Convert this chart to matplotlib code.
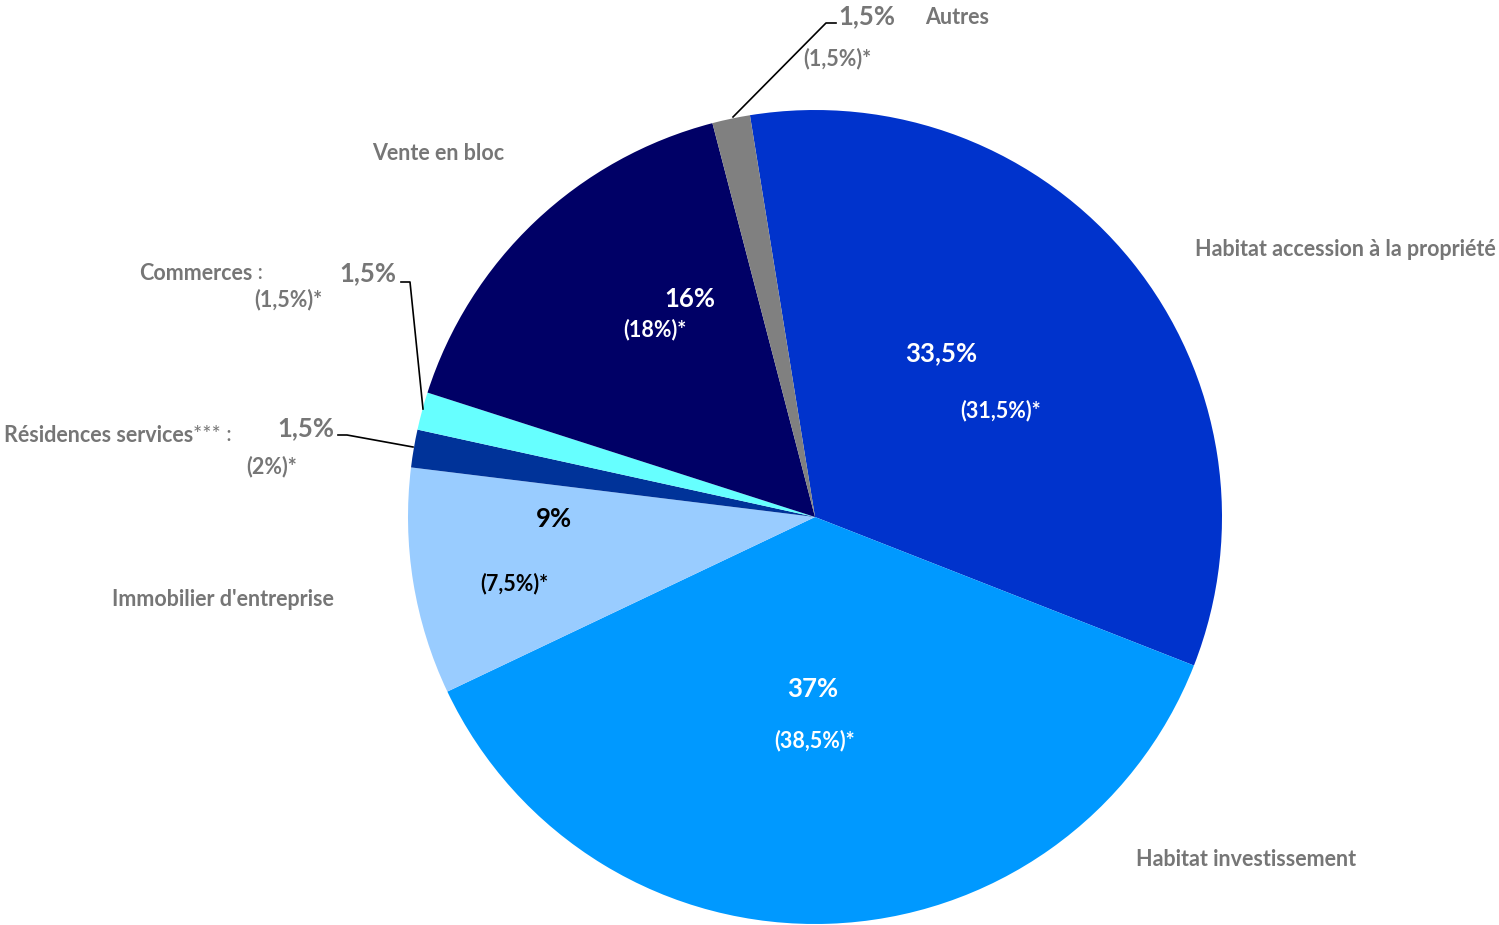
import matplotlib
matplotlib.use("Agg")
import matplotlib.pyplot as plt

plt.rcParams['font.family'] = ['Lato', 'DejaVu Sans']

# ---- data ----
categories = ["Habitat accession à la propriété", "Habitat investissement",
              "Immobilier d'entreprise", "Résidences services", "Commerces",
              "Vente en bloc", "Autres"]
shares = [33.5, 37.0, 9.0, 1.5, 1.5, 16.0, 1.5]
previous = [31.5, 38.5, 7.5, 2.0, 1.5, 18.0, 1.5]
colors = ["#0033CC", "#0099FF", "#99CCFF", "#003399", "#66FFFF", "#000066", "#808080"]

def fmt(v):
    s = f"{v:g}".replace(".", ",")
    return s + "%"

W, H = 1499, 925
fig = plt.figure(figsize=(W / 100, H / 100), dpi=100)
ax = fig.add_axes([0, 0, 1, 1])

def Y(y):
    return H - y

cx, cy, R = 815, Y(517), 407
ax.pie(shares, colors=colors, startangle=99.2, counterclock=False,
       center=(cx, cy), radius=R, wedgeprops=dict(linewidth=0))
ax.set_xlim(0, W)
ax.set_ylim(0, H)
ax.set_aspect('equal')
ax.axis('off')

gray = "#767676"
big = 18.5
small = 15.5
lab = 15.5

# inside labels
inside = {0: ((941, 353), (1001, 411), "white"),
          1: ((813, 689), (815, 741), "white"),
          2: ((554, 519), (514, 584), "black"),
          5: ((690, 299), (655, 330), "white")}
for i, (p1, p2, c) in inside.items():
    ax.text(p1[0], Y(p1[1]), fmt(shares[i]), ha='center', va='center',
            fontsize=big, fontweight='bold', color=c)
    ax.text(p2[0], Y(p2[1]), "(" + fmt(previous[i]) + ")*", ha='center', va='center',
            fontsize=small, fontweight='bold', color=c)

# category labels
ax.text(1345, Y(249), categories[0], ha='center', va='center', fontsize=lab, fontweight='bold', color=gray)
ax.text(1246, Y(860), categories[1], ha='center', va='center', fontsize=lab, fontweight='bold', color=gray)
ax.text(223, Y(600), categories[2], ha='center', va='center', fontsize=lab, fontweight='bold', color=gray)
ax.text(438, Y(153), categories[5], ha='center', va='center', fontsize=lab, fontweight='bold', color=gray)
ax.text(957, Y(18), categories[6], ha='center', va='center', fontsize=lab, fontweight='bold', color=gray)

# Autres outside value
ax.text(867, Y(16), fmt(shares[6]), ha='center', va='center', fontsize=big, fontweight='bold', color=gray)
ax.text(837, Y(59), "(" + fmt(previous[6]) + ")*", ha='center', va='center', fontsize=small, fontweight='bold', color=gray)
ax.plot([733, 826, 836], [Y(117), Y(23), Y(23)], color='black', lw=1.2)

fig.canvas.draw()
rend = fig.canvas.get_renderer()

def chain(x0, y, pieces):
    x = x0
    for txt, weight in pieces:
        t = ax.text(x, Y(y), txt, ha='left', va='center', fontsize=lab,
                    fontweight=weight, color=gray)
        bb = t.get_window_extent(renderer=rend)
        x = x + bb.width

# Commerces
chain(139, 273, [(categories[4], 'bold'), (" :", 'normal')])
ax.text(368, Y(273), fmt(shares[4]), ha='center', va='center', fontsize=big, fontweight='bold', color=gray)
ax.text(288, Y(300), "(" + fmt(previous[4]) + ")*", ha='center', va='center', fontsize=small, fontweight='bold', color=gray)
ax.plot([401, 410, 423], [Y(282), Y(282), Y(409)], color='black', lw=1.2)

# Résidences services
chain(4, 435, [(categories[3], 'bold'), ("*** :", 'normal')])
ax.text(306, Y(428), fmt(shares[3]), ha='center', va='center', fontsize=big, fontweight='bold', color=gray)
ax.text(272, Y(467), "(" + fmt(previous[3]) + ")*", ha='center', va='center', fontsize=small, fontweight='bold', color=gray)
ax.plot([338, 347, 413], [Y(435), Y(435), Y(447)], color='black', lw=1.2)

fig.savefig("out.png", dpi=100)
